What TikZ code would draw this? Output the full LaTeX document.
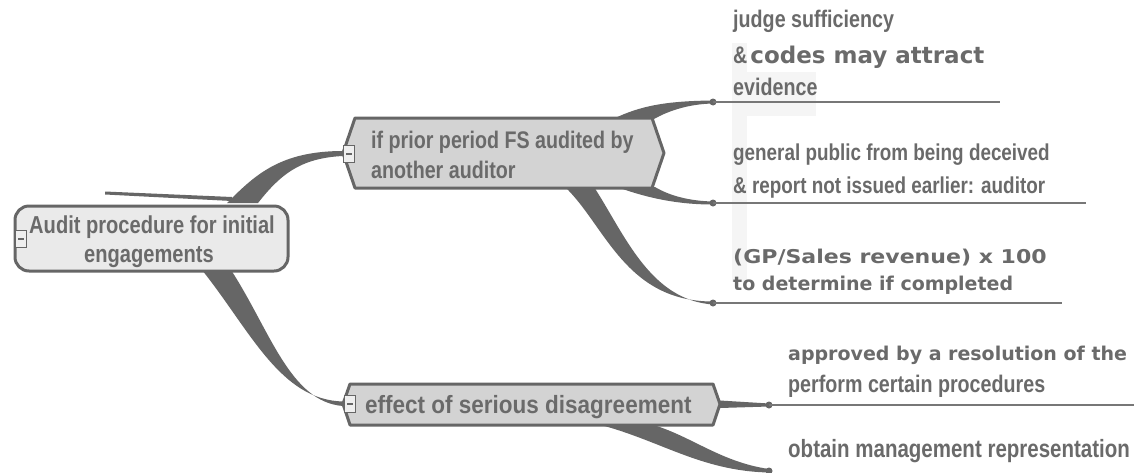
\documentclass[tikz,border=0pt]{standalone}
\usepackage{fontspec}
\newfontfamily\nar{Liberation Sans}[UprightFont={* Bold}, BoldFont={* Bold}, FakeStretch=0.82]
\newfontfamily\narw{Liberation Sans}[UprightFont={* Bold}, BoldFont={* Bold}, FakeStretch=0.9]
\newfontfamily\wid{DejaVu Sans}[UprightFont={* Bold}, BoldFont={* Bold}]
\newfontfamily\widx{DejaVu Sans}[UprightFont={* Bold}, BoldFont={* Bold}, FakeStretch=1.16]
\definecolor{bc}{HTML}{666666}
\definecolor{tc}{HTML}{6A6A6A}
\definecolor{lc}{HTML}{777777}
\definecolor{nfill}{HTML}{D3D3D3}
\definecolor{rfill}{HTML}{EAEAEA}
\definecolor{mfill}{HTML}{EFEFEF}
\definecolor{faint}{HTML}{F5F5F5}
\begin{document}
\begin{tikzpicture}[x=1pt,y=-1pt,
  txt/.style={anchor=base west, inner sep=0pt, text=tc},
  nf/.style={font=\nar\fontsize{#1}{#1}\selectfont},
  nfw/.style={font=\narw\fontsize{#1}{#1}\selectfont},
  wf/.style={font=\wid\fontsize{#1}{#1}\selectfont},
  wfx/.style={font=\widx\fontsize{#1}{#1}\selectfont},
  br/.style={fill=bc},
  dotn/.style={circle, fill=bc, inner sep=0pt, minimum size=7pt},
  uline/.style={draw=lc, line width=2pt},
  hexbox/.style={fill=nfill, draw=bc, line width=3pt, line join=round},
  rootbox/.style={fill=rfill, draw=bc, line width=3pt, rounded corners=14pt},
  mbox/.style={draw=bc, fill=mfill, line width=1pt, minimum width=11pt, minimum height=17pt, inner sep=0pt,
    path picture={\draw[bc, line width=1.8pt] ([xshift=-3pt]path picture bounding box.center) -- ([xshift=3pt]path picture bounding box.center);}},
]
\useasboundingbox (0,0) rectangle (1134,472);
\fill[white] (0,0) rectangle (1134,472);
% faint background marks
\fill[faint] (732,43) rectangle (747,282);
\fill[faint] (732,72) rectangle (816,116);

% dots and line ends
\node[dotn] (d1) at (713,102) {};
\node[dotn] (d2) at (713,203) {};
\node[dotn] (d3) at (713,303) {};
\node[dotn] (d4) at (769,405) {};
\node[dotn] (d5) at (769,471) {};
\coordinate (e1) at (1000,102);
\coordinate (e2) at (1086,203);
\coordinate (e3) at (1062,303);
\coordinate (e4) at (1134,405);
\coordinate (n1w) at (343,153);
\coordinate (n2w) at (343,404);
\coordinate (n2e) at (720,404);

\draw[uline] (d1.center) -- (e1);
\draw[uline] (d2.center) -- (e2);
\draw[uline] (d3.center) -- (e3);
\draw[uline] (d4.center) -- (e4);

% branches
\fill[br] (105,191.5) -- (232,197) -- (232,201) -- (105,194.5) -- cycle;
\fill[br] (227,203) .. controls (255,175) and (280,151) .. ([yshift=2pt]n1w) -- ([yshift=-3pt]n1w) .. controls (300,158) and (280,175) .. (258,203) -- cycle;
\fill[br] (202,270) .. controls (250,330) and (280,400) .. ([yshift=2.5pt]n2w) -- ([yshift=-2pt]n2w) .. controls (290,402) and (270,330) .. (231,270) -- cycle;
\fill[br] (613,119) .. controls (640,106) and (665,101) .. ([yshift=1.5pt]d1.center) -- ([yshift=-1.5pt]d1.center) .. controls (690,104) and (670,110) .. (654,119) -- cycle;
\fill[br] (617,187) .. controls (650,199) and (680,204.5) .. ([yshift=-1.5pt]d2.center) -- ([yshift=1.5pt]d2.center) .. controls (690,201) and (670,196) .. (655,187) -- cycle;
\fill[br] (565,187) .. controls (605,225) and (625,301.5) .. ([yshift=1.5pt]d3.center) -- ([yshift=-1.5pt]d3.center) .. controls (650,300) and (625,235) .. (594,187) -- cycle;
\fill[br] ([yshift=3.5pt]n2e) -- ([yshift=1.5pt]d4.center) -- ([yshift=-1.5pt]d4.center) -- ([yshift=-4pt]n2e) -- cycle;
\fill[br] (597,424) .. controls (660,440) and (700,471) .. ([yshift=-1.5pt]d5.center) -- ([yshift=2pt]d5.center) .. controls (720,462) and (690,435) .. (650,424) -- cycle;

% root
\draw[rootbox] (15,206) rectangle (288,271);
\node[txt, nf=24.5, anchor=base] (root) at (152,233) {Audit procedure for initial};
\node[txt, nf=24.5, anchor=base] (rootb) at (149,262) {engagements};
\node[mbox] (m0) at (21,239) {};

% node 1
\path[hexbox] (n1w) -- (355,118) -- (652,118) -- (664,153) -- (652,188) -- (355,188) -- cycle;
\node[mbox] (m1) at (349,154) {};
\node[txt, nf=24] (n1) at (371,148) {if prior period FS audited by};
\node[txt, nf=24] (n1b) at (371,178) {another auditor};

% node 2
\path[hexbox] (n2w) -- (350,384) -- (713,384) -- (n2e) -- (713,425) -- (350,425) -- cycle;
\node[mbox] (m2) at (350,404) {};
\node[txt, nfw=25] (n2) at (365,413) {effect of serious disagreement};

% children of node 1
\node[txt, nf=24] (c1a) at (733,27) {judge sufficiency};
\node[txt, nf=24] (c1b) at (733,63) {\&\hspace{3pt}{\wid\fontsize{23}{23}\selectfont codes may attract}};
\node[txt, nf=24] (c1c) at (733,95) {evidence};
\node[txt, nf=23] (c2a) at (733,160) {general public from being deceived};
\node[txt, nf=23] (c2b) at (733,193) {\& report not issued earlier: auditor};
\node[txt, wfx=19] (c3a) at (733,263) {(GP/Sales revenue) x 100};
\node[txt, wf=19] (c3b) at (733,290) {to determine if completed};

% children of node 2
\node[txt, wf=19] (c4a) at (788,360) {approved by a resolution of the};
\node[txt, nf=24] (c4b) at (788,392) {perform certain procedures};
\node[txt, nf=25] (c5a) at (788,457) {obtain management representation};
\end{tikzpicture}
\end{document}
